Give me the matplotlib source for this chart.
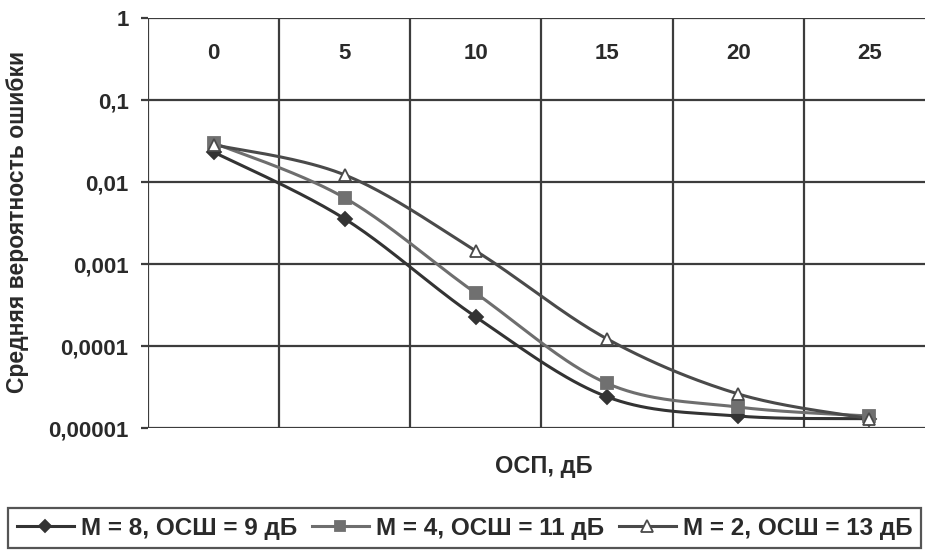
import numpy as np
import matplotlib
matplotlib.use("Agg")
import matplotlib.pyplot as plt
from matplotlib.lines import Line2D

plt.rcParams['font.family'] = ['Liberation Sans', 'DejaVu Sans']
plt.rcParams['font.weight'] = 'bold'

# SNR (dB) categories
snr_db = ["0", "5", "10", "15", "20", "25"]

# Average error probability for each modulation order
ber_m8 = [0.0232, 0.00355, 0.000226, 2.4e-5, 1.4e-5, 1.3e-5]
ber_m4 = [0.0300, 0.0064, 0.00044, 3.5e-5, 1.8e-5, 1.4e-5]
ber_m2 = [0.0285, 0.0122, 0.00144, 0.000122, 2.6e-5, 1.3e-5]

labels = ["M = 8, ОСШ = 9 дБ", "M = 4, ОСШ = 11 дБ", "M = 2, ОСШ = 13 дБ"]

y_ticks = [1e-5, 1e-4, 1e-3, 1e-2, 1e-1, 1]
y_tick_labels = ["0,00001", "0,0001", "0,001", "0,01", "0,1", "1"]


def smooth(xs, ys, n=40):
    """Bezier smoothing through points (Catmull-Rom control points) in log space."""
    xs = np.asarray(xs, float)
    ly = np.log10(np.asarray(ys, float))
    px = np.concatenate([[xs[0]], xs, [xs[-1]]])
    py = np.concatenate([[ly[0]], ly, [ly[-1]]])
    outx, outy = [], []
    t = np.linspace(0, 1, n)
    for i in range(1, len(px) - 2):
        p0 = np.array([px[i], py[i]])
        p3 = np.array([px[i + 1], py[i + 1]])
        c1 = p0 + (np.array([px[i + 1], py[i + 1]]) - np.array([px[i - 1], py[i - 1]])) / 6
        c2 = p3 - (np.array([px[i + 2], py[i + 2]]) - np.array([px[i], py[i]])) / 6
        b = ((1 - t) ** 3)[:, None] * p0 + (3 * (1 - t) ** 2 * t)[:, None] * c1 \
            + (3 * (1 - t) * t ** 2)[:, None] * c2 + (t ** 3)[:, None] * p3
        outx.extend(b[:, 0])
        outy.extend(b[:, 1])
    return np.array(outx), 10 ** np.array(outy)


W, H = 925, 551
fig = plt.figure(figsize=(W / 100, H / 100), dpi=100)
ax = fig.add_axes([148 / W, 1 - 428 / H, (935 - 148) / W, (428 - 18) / H])

x = np.arange(len(snr_db))
grid_c = "#3c3c3c"
text_c = "#2a2a2a"

ax.set_yscale("log")
ax.set_ylim(1e-5, 1)
ax.set_xlim(-0.5, len(snr_db) - 0.5)

# grid at category boundaries and decades
for b in np.arange(-0.5, len(snr_db) + 0.5):
    ax.axvline(b, color=grid_c, lw=1.6, zorder=1)
for yt in y_ticks:
    ax.axhline(yt, color=grid_c, lw=1.6, zorder=1)

for s in ax.spines.values():
    s.set_visible(False)

ax.set_xticks([])
ax.set_yticks(y_ticks)
ax.set_yticklabels(y_tick_labels, fontsize=16, fontweight='bold', color=text_c)
ax.yaxis.set_minor_locator(matplotlib.ticker.NullLocator())
ax.tick_params(axis='y', length=5, width=1.6, color=grid_c, pad=9)

# category labels inside the top band
for xi, lab in zip(x, snr_db):
    ax.text(xi, 0.374, lab, ha='center', va='center', fontsize=16,
            fontweight='bold', color=text_c, zorder=5)

series = [
    (ber_m8, "#333333", "D", "#333333", "#333333", 7),
    (ber_m4, "#6e6e6e", "s", "#707070", "#707070", 8),
    (ber_m2, "#4a4a4a", "^", "white", "#4a4a4a", 9),
]
handles = []
for (vals, lc, mk, mfc, mec, ms), lab in zip(series, labels):
    sx, sy = smooth(x, vals)
    ax.plot(sx, sy, color=lc, lw=2.2, zorder=3)
    ax.plot(x, vals, linestyle='none', marker=mk, markersize=ms,
            markerfacecolor=mfc, markeredgecolor=mec, markeredgewidth=1.3, zorder=4)
    handles.append(Line2D([0], [0], color=lc, lw=2.2, marker=mk, markersize=ms - 1,
                          markerfacecolor=mfc, markeredgecolor=mec, markeredgewidth=1.3))

fig.text(18 / W, 1 - 222 / H, "Средняя вероятность ошибки", rotation=90,
         ha='center', va='center', fontsize=16.5, fontweight='bold', color=text_c)
fig.text(544 / W, 1 - 466 / H, "ОСП, дБ", ha='center', va='center',
         fontsize=17, fontweight='bold', color=text_c)

leg = fig.legend(handles, labels, loc='upper left', bbox_to_anchor=(8 / W, 1 - 508 / H),
                 ncol=3, frameon=True, fancybox=False,
                 prop={'weight': 'bold', 'size': 17.5}, handlelength=2.35,
                 handletextpad=0.3, columnspacing=0.6, borderpad=0.35,
                 borderaxespad=0, edgecolor=text_c)
leg.get_frame().set_linewidth(1.6)
for t in leg.get_texts():
    t.set_color(text_c)

fig.savefig("out.png", dpi=100)
